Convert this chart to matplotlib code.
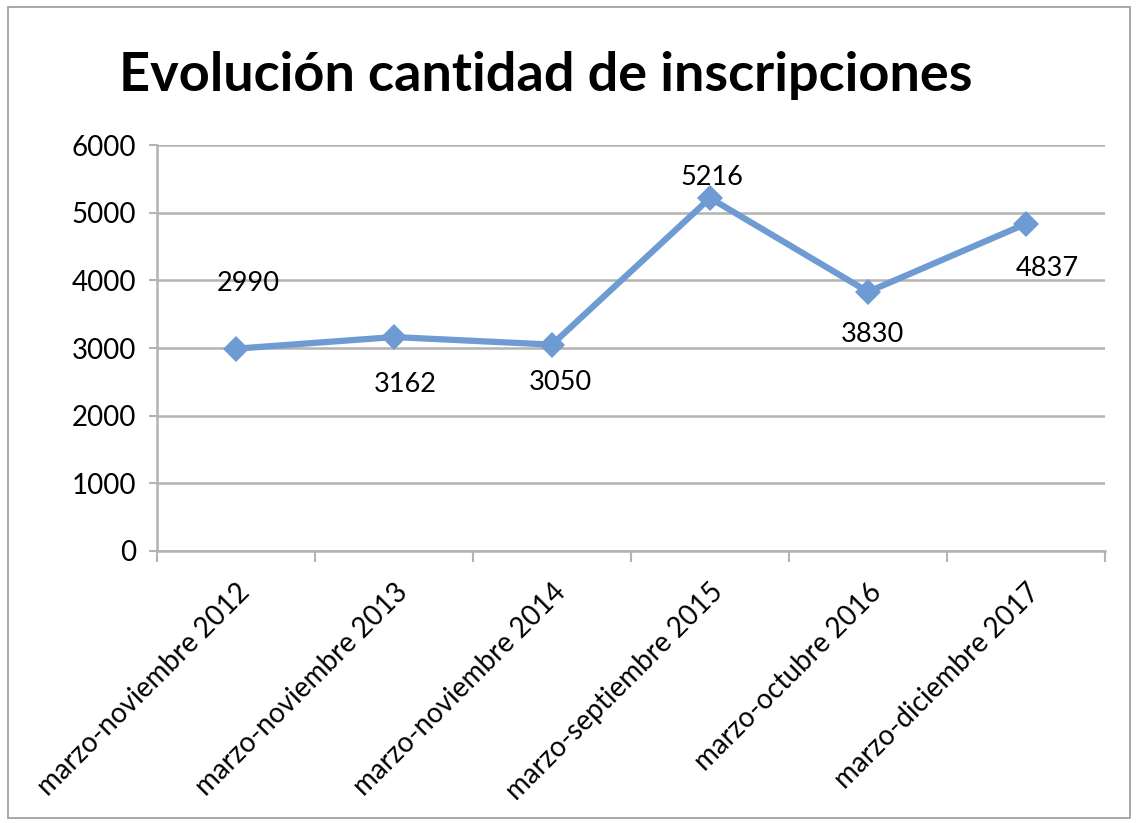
import matplotlib.pyplot as plt
from matplotlib.patches import Rectangle

plt.rcParams['font.family'] = ['Lato', 'DejaVu Sans']

categorias = ['marzo-noviembre 2012', 'marzo-noviembre 2013', 'marzo-noviembre 2014',
              'marzo-septiembre 2015', 'marzo-octubre 2016', 'marzo-diciembre 2017']
inscripciones = [2990, 3162, 3050, 5216, 3830, 4837]
# where each value label sits relative to its point (offset points)
offsets = [(9, 47), (8, -34), (6, -27), (1, 15), (3, -31), (15, -32)]

fig = plt.figure(figsize=(11.37, 8.23), dpi=100)
ax = fig.add_axes([0.138, 0.3305, 0.834, 0.4933])

x = range(len(categorias))
ax.plot(x, inscripciones, color='#6d9bd2', linewidth=4.5, marker='D',
        markersize=13, markeredgewidth=0, zorder=3)

for i, v in enumerate(inscripciones):
    ax.annotate(str(v), (i, v), xytext=offsets[i], textcoords='offset points',
                ha='center', va='center', fontsize=19.5, color='black')

ax.set_xlim(-0.5, len(categorias) - 0.5)
ax.set_ylim(0, 6000)
ax.set_yticks(range(0, 6001, 1000))
ax.tick_params(axis='y', labelsize=20, length=6, width=1.5, color='#b3b3b3', pad=9)
ax.yaxis.grid(True, color='#b3b3b3', linewidth=1.8)
ax.set_axisbelow(True)

# category ticks sit between categories, labels at centers
ax.set_xticks([i - 0.5 for i in range(len(categorias) + 1)])
ax.set_xticklabels([])
ax.set_xticks(list(x), minor=True)
ax.set_xticklabels(categorias, minor=True, rotation=45, ha='right',
                   rotation_mode='anchor', fontsize=20)
ax.tick_params(axis='x', which='major', length=8, width=1.5, color='#b3b3b3')
ax.tick_params(axis='x', which='minor', length=0, pad=20)

for s in ['top', 'right']:
    ax.spines[s].set_visible(False)
for s in ['left', 'bottom']:
    ax.spines[s].set_color('#b3b3b3')
    ax.spines[s].set_linewidth(1.8)

fig.text(0.48, 0.908, 'Evolución cantidad de inscripciones', ha='center',
         va='center', fontsize=39, fontweight='bold')

fig.patches.append(Rectangle((0.007, 0.006), 0.987, 0.985, transform=fig.transFigure,
                             fill=False, edgecolor='#9a9a9a', linewidth=1.2))

plt.savefig('out.png', dpi=100)
